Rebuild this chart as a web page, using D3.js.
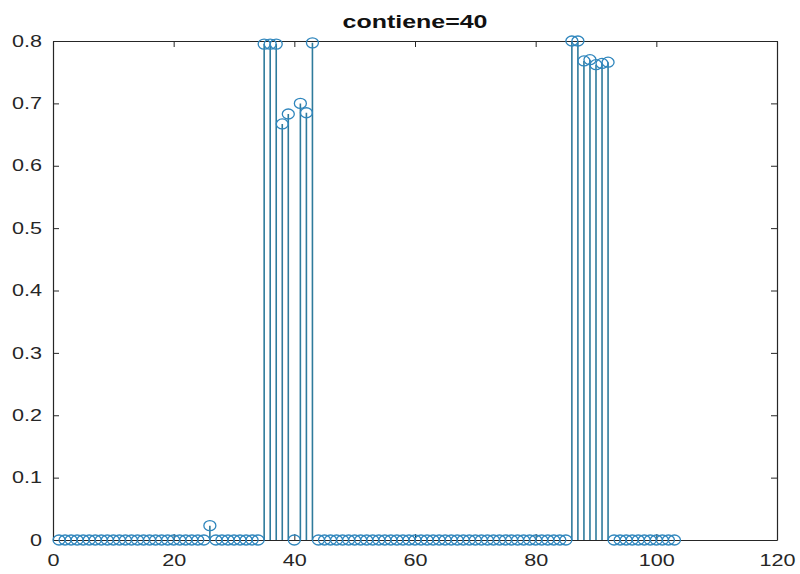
<!DOCTYPE html>
<html>
<head>
<meta charset="utf-8">
<script src="https://cdn.jsdelivr.net/npm/d3@7"></script>
<style>
  body { margin: 0; background: #fff; }
  svg { display: block; }
  text { font-family: "Liberation Sans", Arial, sans-serif; }
</style>
</head>
<body>
<svg id="chart" width="800" height="574"></svg>
<script>
// Sample index (1..103) and the stem heights at each index
const sampleIndex = d3.range(1, 104);
const stemValues = [
  0, 0, 0, 0, 0, 0, 0, 0, 0, 0,            // 1-10
  0, 0, 0, 0, 0, 0, 0, 0, 0, 0,            // 11-20
  0, 0, 0, 0, 0, 0.023, 0, 0, 0, 0,        // 21-30
  0, 0, 0, 0, 0.795, 0.795, 0.795, 0.667, 0.683, 0, // 31-40
  0.700, 0.685, 0.797, 0, 0, 0, 0, 0, 0, 0, // 41-50
  0, 0, 0, 0, 0, 0, 0, 0, 0, 0,            // 51-60
  0, 0, 0, 0, 0, 0, 0, 0, 0, 0,            // 61-70
  0, 0, 0, 0, 0, 0, 0, 0, 0, 0,            // 71-80
  0, 0, 0, 0, 0, 0.800, 0.800, 0.768, 0.770, 0.762, // 81-90
  0.764, 0.766, 0, 0, 0, 0, 0, 0, 0, 0,    // 91-100
  0, 0, 0                                   // 101-103
];
const xTickValues = [0, 20, 40, 60, 80, 100, 120];
const yTickValues = [0, 0.1, 0.2, 0.3, 0.4, 0.5, 0.6, 0.7, 0.8];
const titleText = "contiene=40";

const svg = d3.select("#chart");
const plot = { left: 53, right: 777, top: 41, bottom: 540 };
const textStretch = 1.35;

const x = d3.scaleLinear().domain([0, 120]).range([plot.left, plot.right]);
const y = d3.scaleLinear().domain([0, 0.8]).range([plot.bottom, plot.top]);

const axisColor = "#262626";
const stemColor = "#2f7b9c";
const markerColor = "#2f86bd";

// Stems from the baseline to each value
const data = sampleIndex.map((i, k) => ({ i, v: stemValues[k] }));
svg.append("g").selectAll("line")
  .data(data.filter(d => d.v !== 0))
  .join("line")
  .attr("x1", d => x(d.i)).attr("x2", d => x(d.i))
  .attr("y1", y(0)).attr("y2", d => y(d.v))
  .attr("stroke", stemColor)
  .attr("stroke-width", 1.6);

// Axes box with inward ticks on all four sides
function styleAxis(g) {
  g.selectAll("path").attr("stroke", axisColor).attr("stroke-width", 1.2);
  g.selectAll("line").attr("stroke", axisColor).attr("stroke-width", 1);
}
const fmtY = d => d === 0 ? "0" : d3.format(".1f")(d);

const gBottom = svg.append("g").attr("transform", `translate(0,${plot.bottom})`)
  .call(d3.axisBottom(x).tickValues(xTickValues).tickSizeInner(-6).tickSizeOuter(0).tickPadding(15));
gBottom.call(styleAxis);
gBottom.selectAll("text")
  .attr("fill", axisColor).attr("font-size", 16)
  .attr("transform", `scale(${textStretch},1)`);

const gTop = svg.append("g").attr("transform", `translate(0,${plot.top})`)
  .call(d3.axisTop(x).tickValues(xTickValues).tickSizeInner(-6).tickSizeOuter(0).tickFormat(""));
gTop.call(styleAxis);

const gLeft = svg.append("g").attr("transform", `translate(${plot.left},0)`)
  .call(d3.axisLeft(y).tickValues(yTickValues).tickFormat(fmtY).tickSizeInner(-6).tickSizeOuter(0).tickPadding(11));
gLeft.call(styleAxis);
gLeft.selectAll("text")
  .attr("fill", axisColor).attr("font-size", 16)
  .attr("x", -11 / textStretch)
  .attr("transform", `scale(${textStretch},1)`);

const gRight = svg.append("g").attr("transform", `translate(${plot.right},0)`)
  .call(d3.axisRight(y).tickValues(yTickValues).tickSizeInner(-6).tickSizeOuter(0).tickFormat(""));
gRight.call(styleAxis);

// Open circle markers at each value
svg.append("g").selectAll("ellipse")
  .data(data)
  .join("ellipse")
  .attr("cx", d => x(d.i)).attr("cy", d => y(d.v))
  .attr("rx", 6).attr("ry", 5)
  .attr("fill", "none")
  .attr("stroke", markerColor)
  .attr("stroke-width", 1.3);

// Title
svg.append("text")
  .attr("transform", `translate(${(plot.left + plot.right) / 2},28) scale(${textStretch},1)`)
  .attr("text-anchor", "middle")
  .attr("font-size", 18.5)
  .attr("font-weight", "bold")
  .attr("fill", "#111")
  .text(titleText);
</script>
</body>
</html>
